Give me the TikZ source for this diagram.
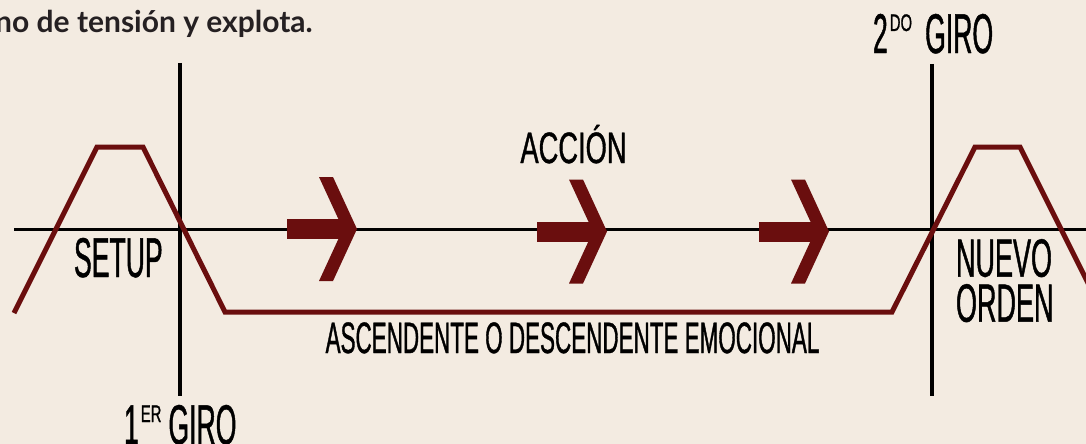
\documentclass[tikz,border=0pt]{standalone}
\usepackage{fontspec}
\setmainfont{Liberation Sans}
\newfontfamily\condA[FakeStretch=0.475,FakeBold=0.8]{Liberation Sans}
\newfontfamily\condB[FakeStretch=0.5,FakeBold=0.8]{Liberation Sans}
\newfontfamily\condC[FakeStretch=0.51,FakeBold=0.8]{Liberation Sans}
\newfontfamily\condD[FakeStretch=0.62,FakeBold=0.8]{Liberation Sans}
\newfontfamily\topfont{Lato}
\definecolor{bg}{HTML}{F3EBE1}
\definecolor{wine}{HTML}{6A0E0E}
\definecolor{ink}{HTML}{252022}
\tikzset{
  axisline/.style={black,line width=3pt},
  turnline/.style={black,line width=4pt},
  plotline/.style={wine,line width=5pt,line join=miter},
  lbl/.style={inner sep=0pt,outer sep=0pt,text=black},
  big/.style={font=\condA\fontsize{56}{56}\selectfont},
  fatarrow/.pic={
    \fill[wine] (-70,-10) rectangle (-14,10);
    \fill[wine] (-38,-52) -- (-24,-52) -- (0,0) -- (-24,52) -- (-38,52) -- (-14,0) -- cycle;
  }
}
\newcommand{\supmark}[1]{\raisebox{22pt}{\condD\fontsize{24}{24}\selectfont #1}}
\begin{document}
\begin{tikzpicture}[x=1pt,y=-1pt]
\useasboundingbox (0,0) rectangle (1086,444);
\fill[bg] (0,0) rectangle (1086,444);
\clip (0,0) rectangle (1086,444);
% coordinates
\coordinate (hl) at (14,229);
\coordinate (hr) at (1090,229);
\coordinate (v1t) at (180,63);
\coordinate (v1b) at (180,396);
\coordinate (v2t) at (932,64);
\coordinate (v2b) at (932,396);
\coordinate (p0) at (14,313);
\coordinate (p1) at (97,147);
\coordinate (p2) at (143,147);
\coordinate (p3) at (225,312);
\coordinate (p4) at (892,312);
\coordinate (p5) at (975,147);
\coordinate (p6) at (1020,147);
\coordinate (p7) at (1103,313);
% axes
\draw[axisline] (hl) -- (hr);
\draw[turnline] (v1t) -- (v1b);
\draw[turnline] (v2t) -- (v2b);
% plot line
\draw[plotline] (p0) -- (p1) -- (p2) -- (p3) -- (p4) -- (p5) -- (p6) -- (p7);
% arrows
\pic at (357,229) {fatarrow};
\pic at (607,231.5) {fatarrow};
\pic at (829,231.5) {fatarrow};
% texts
\node[anchor=base west,inner sep=0pt,text=ink,font=\topfont\bfseries\fontsize{30}{30}\selectfont] (toptext) at (-5,33) {no de tensión y explota.};
\node[lbl,big,anchor=base west] (setup) at (74,277) {SETUP};
\node[lbl,font=\condD\fontsize{44}{44}\selectfont,anchor=base] (accion) at (573.5,163) {ACCIÓN};
\node[lbl,font=\condB\fontsize{54}{45}\selectfont,anchor=north west,align=left] (nuevo) at (956,239) {NUEVO\\ORDEN};
\node[lbl,font=\condC\fontsize{44}{44}\selectfont,anchor=base] (emo) at (572.5,353) {ASCENDENTE O DESCENDENTE EMOCIONAL};
\node[lbl,big,anchor=base west] (giro1) at (124,444) {1\hspace{2pt}\supmark{ER}\hspace{7pt}GIRO};
\node[lbl,big,anchor=base west] (giro2) at (873,53) {2\hspace{2pt}\supmark{DO}\hspace{13pt}GIRO};
\end{tikzpicture}
\end{document}
